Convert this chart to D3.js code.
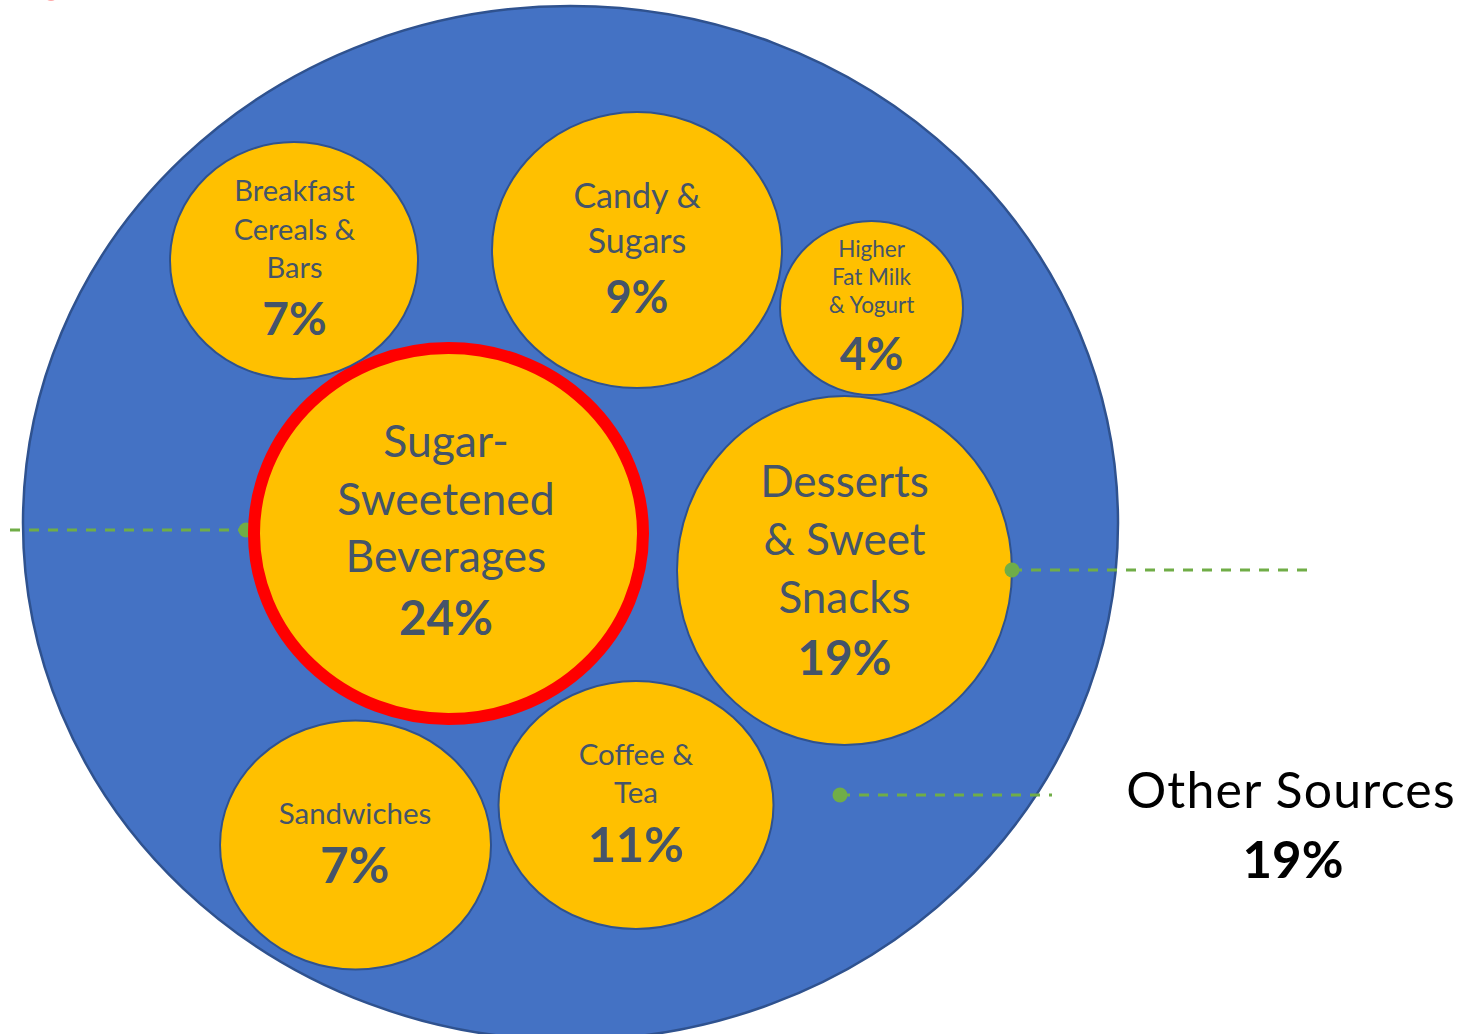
<!DOCTYPE html>
<html>
<head>
<meta charset="utf-8">
<script src="https://cdn.jsdelivr.net/npm/d3@7"></script>
<style>
  html, body { margin: 0; padding: 0; background: #ffffff; }
  svg { display: block; }
</style>
</head>
<body>
<svg id="chart" width="1467" height="1034"></svg>
<script>
// Sources of added sugars: each food group and its share.
const categories = [
  "Sugar-Sweetened Beverages",
  "Desserts & Sweet Snacks",
  "Coffee & Tea",
  "Candy & Sugars",
  "Breakfast Cereals & Bars",
  "Sandwiches",
  "Higher Fat Milk & Yogurt"
];
const shares = [24, 19, 11, 9, 7, 7, 4];
const labelLines = [
  ["Sugar-", "Sweetened", "Beverages"],
  ["Desserts", "& Sweet", "Snacks"],
  ["Coffee &", "Tea"],
  ["Candy &", "Sugars"],
  ["Breakfast", "Cereals &", "Bars"],
  ["Sandwiches"],
  ["Higher", "Fat Milk", "& Yogurt"]
];
const otherLabel = "Other Sources";
const otherShare = 19;
const highlighted = "Sugar-Sweetened Beverages";

// Hand-placed bubble geometry and type sizes, one entry per category.
const bubbleLayout = {
  "Sugar-Sweetened Beverages": { cx: 448.5, cy: 533.5, rx: 194.5, ry: 185.5, tx: 446, size: 44.5, first: 457, gap: 57.5, pctSize: 47.5, pctY: 635 },
  "Desserts & Sweet Snacks":   { cx: 844.5, cy: 570.5, rx: 167.5, ry: 174.5, tx: 844.5, size: 44, first: 497, gap: 58, pctSize: 47.5, pctY: 675 },
  "Coffee & Tea":              { cx: 636,   cy: 805,   rx: 137.5, ry: 124,   tx: 636, size: 29.5, first: 765, gap: 38, pctSize: 48.5, pctY: 862 },
  "Candy & Sugars":            { cx: 637,   cy: 250,   rx: 145,   ry: 138,   tx: 637, size: 34, first: 208, gap: 45, pctSize: 45, pctY: 313 },
  "Breakfast Cereals & Bars":  { cx: 294,   cy: 260.5, rx: 124,   ry: 118.5, tx: 294.5, size: 29, first: 201, gap: 38.5, pctSize: 46, pctY: 335 },
  "Sandwiches":                { cx: 355.5, cy: 845,   rx: 135.5, ry: 124.5, tx: 355, size: 29.5, first: 824, gap: 38, pctSize: 49.5, pctY: 883 },
  "Higher Fat Milk & Yogurt":  { cx: 871.5, cy: 308,   rx: 91.5,  ry: 87,    tx: 871.5, size: 22.5, first: 257, gap: 28, pctSize: 45.5, pctY: 370 }
};
const outerLayout = { cx: 570.5, cy: 523, rx: 547.5, ry: 517 };

// Leader lines: [x1, x2, y] with a dot at the marked end.
const leaders = [
  { x1: 10,   x2: 246,  y: 530, dot: 246,  under: true },
  { x1: 1012, x2: 1310, y: 570, dot: 1012, under: false },
  { x1: 840,  x2: 1052, y: 795, dot: 840,  under: false }
];

const FONT = "Lato, 'Open Sans', sans-serif";
const TEXT = "#44546a";
const BLUE = "#4472c4";
const EDGE = "#2f528f";
const GOLD = "#ffc000";
const GREEN = "#70ad47";

const svg = d3.select("#chart");
const pct = v => d3.format("d")(v) + "%";

const data = categories.map((c, i) => ({ name: c, share: shares[i], lines: labelLines[i], geo: bubbleLayout[c] }));

// small red marker partly off the top edge
svg.append("circle").attr("cx", 51).attr("cy", -6).attr("r", 7).attr("fill", "#ff0000").attr("opacity", 0.35);

// outer "other sources" disc
svg.append("ellipse")
  .attr("cx", outerLayout.cx).attr("cy", outerLayout.cy)
  .attr("rx", outerLayout.rx).attr("ry", outerLayout.ry)
  .attr("fill", BLUE).attr("stroke", EDGE).attr("stroke-width", 2.5);

function drawLeader(g, d) {
  g.append("line")
    .attr("x1", d.x1).attr("x2", d.x2).attr("y1", d.y).attr("y2", d.y)
    .attr("stroke", GREEN).attr("stroke-width", 3).attr("stroke-dasharray", "10,9");
  g.append("circle").attr("cx", d.dot).attr("cy", d.y).attr("r", 7.5).attr("fill", GREEN);
}

const under = svg.append("g");
leaders.filter(d => d.under).forEach(d => drawLeader(under, d));

// bubbles
const bubbles = svg.append("g").selectAll("g.bubble").data(data).join("g").attr("class", "bubble");

bubbles.append("ellipse")
  .attr("cx", d => d.geo.cx).attr("cy", d => d.geo.cy)
  .attr("rx", d => d.geo.rx).attr("ry", d => d.geo.ry)
  .attr("fill", GOLD)
  .attr("stroke", d => d.name === highlighted ? "#ff0000" : EDGE)
  .attr("stroke-width", d => d.name === highlighted ? 12 : 2);

bubbles.each(function(d) {
  const g = d3.select(this);
  d.lines.forEach((line, j) => {
    g.append("text")
      .attr("x", d.geo.tx).attr("y", d.geo.first + j * d.geo.gap)
      .attr("text-anchor", "middle")
      .attr("font-family", FONT).attr("font-size", d.geo.size)
      .attr("fill", TEXT)
      .text(line);
  });
  g.append("text")
    .attr("x", d.geo.tx).attr("y", d.geo.pctY)
    .attr("text-anchor", "middle")
    .attr("font-family", FONT).attr("font-weight", 700).attr("font-size", d.geo.pctSize)
    .attr("fill", TEXT)
    .text(pct(d.share));
});

const over = svg.append("g");
leaders.filter(d => !d.under).forEach(d => drawLeader(over, d));

// label for the remaining share
svg.append("text")
  .attr("x", 1291).attr("y", 808).attr("text-anchor", "middle")
  .attr("font-family", FONT).attr("font-size", 50).attr("letter-spacing", 1.2).attr("fill", "#000000")
  .text(otherLabel);
svg.append("text")
  .attr("x", 1293).attr("y", 878).attr("text-anchor", "middle")
  .attr("font-family", FONT).attr("font-weight", 700).attr("font-size", 51).attr("fill", "#000000")
  .text(pct(otherShare));
</script>
</body>
</html>
